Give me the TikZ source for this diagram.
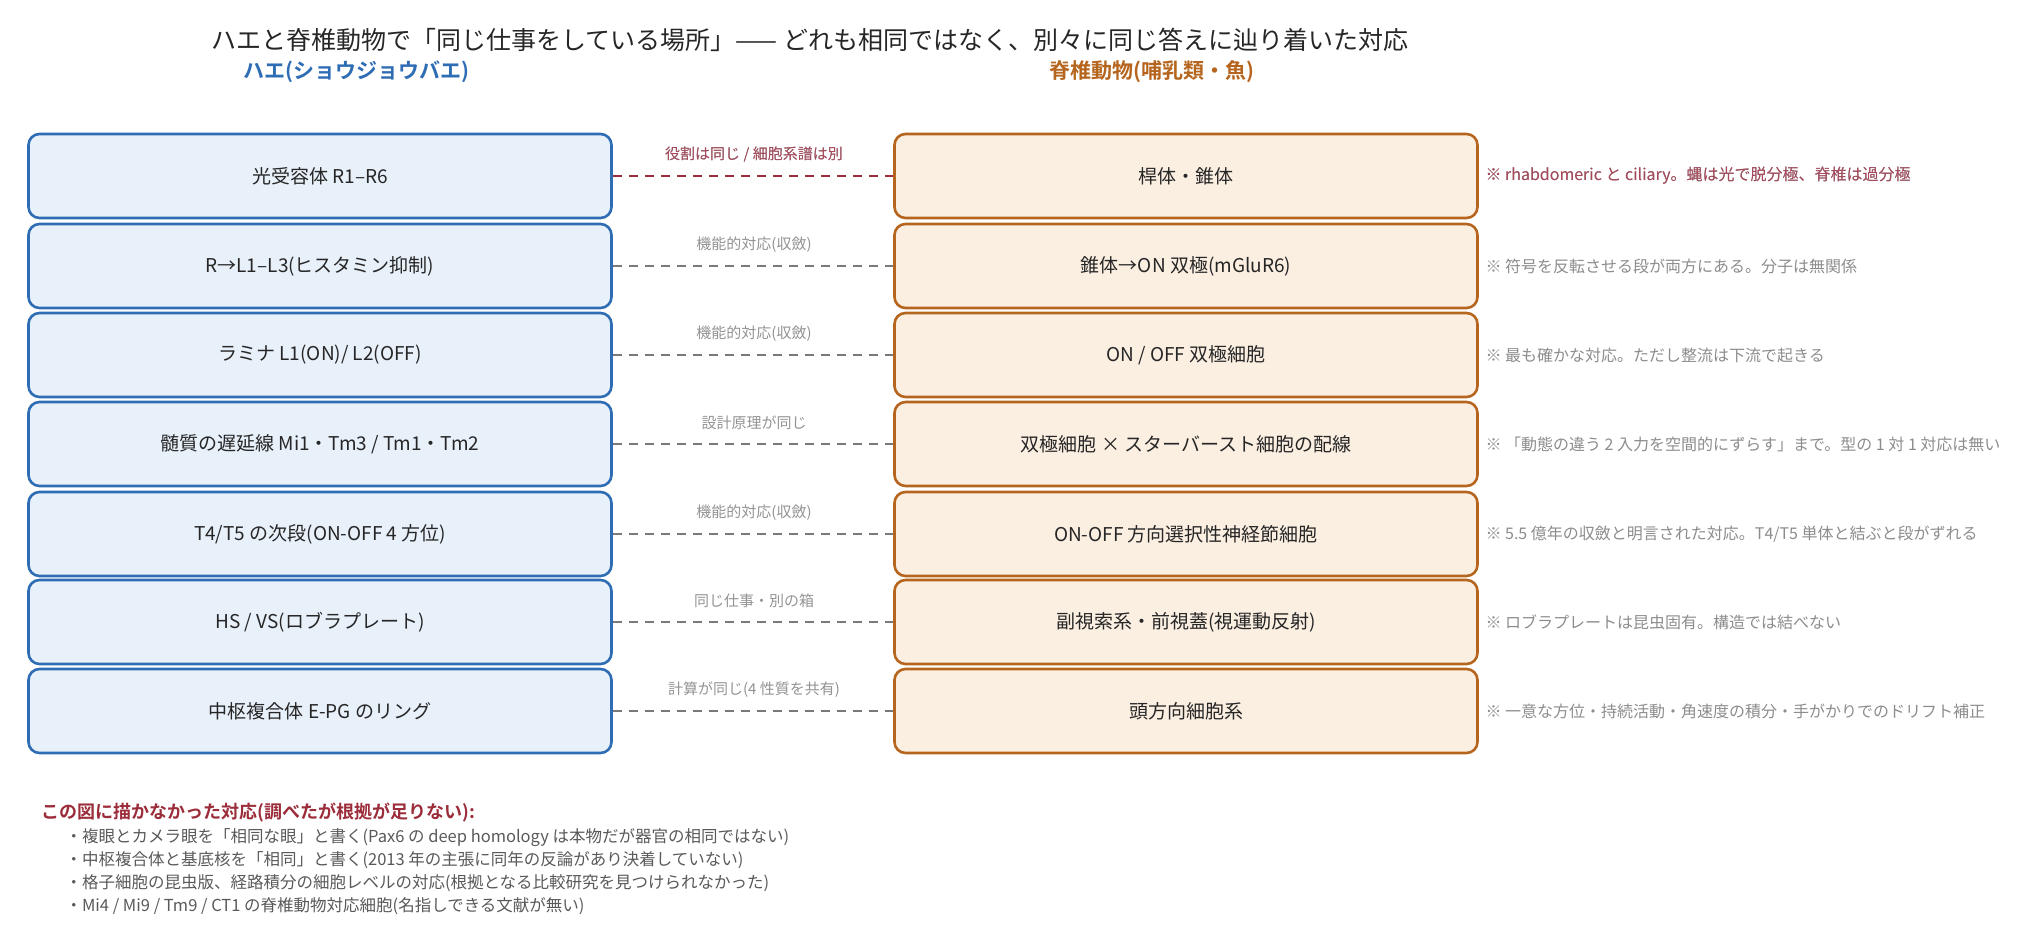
\documentclass[tikz,border=0pt]{standalone}
\usepackage{fontspec}
\setmainfont{Noto Sans CJK JP}
\newfontfamily\jpbold{Noto Sans CJK JP Bold}
\begin{document}
\begin{tikzpicture}[x=1pt,y=-1pt,
  fb/.style={draw=blueB,fill=blueF,line width=2.6pt,rounded corners=11pt,minimum width=583pt,minimum height=84pt,font=\fontsize{19}{22}\selectfont,text=black!85},
  vb/.style={draw=orgB,fill=orgF,line width=2.6pt,rounded corners=11pt,minimum width=583pt,minimum height=84pt,font=\fontsize{19}{22}\selectfont,text=black!85},
  lk/.style={draw=gray!95!black,line width=2.6pt,dash pattern=on 9pt off 7pt},
  lkr/.style={draw=redL,line width=2.6pt,dash pattern=on 9pt off 7pt},
  lab/.style={font=\fontsize{15}{18}\selectfont,text=gray!85},
  note/.style={anchor=west,font=\fontsize{16}{19}\selectfont,text=gray!90},
  item/.style={anchor=west,font=\fontsize{16.5}{19}\selectfont,text=black!65}]
\definecolor{blueB}{HTML}{2E6DB4}\definecolor{blueF}{HTML}{E8F0FA}
\definecolor{orgB}{HTML}{B5651D}\definecolor{orgF}{HTML}{FBEFE2}
\definecolor{redL}{HTML}{9B2C3A}\definecolor{redN}{HTML}{A8485A}
\useasboundingbox (0,0) rectangle (2035,928);
\node[font=\fontsize{25}{30}\selectfont,text=black!85] (title) at (810,40) {ハエと脊椎動物で「同じ仕事をしている場所」—— どれも相同ではなく、別々に同じ答えに辿り着いた対応};
\node[font=\jpbold\fontsize{21}{25}\selectfont,text=blueB] (hf) at (356,72) {ハエ(ショウジョウバエ)};
\node[font=\jpbold\fontsize{21}{25}\selectfont,text=orgB] (hv) at (1152,72) {脊椎動物(哺乳類・魚)};
\foreach \i/\y/\a/\b/\l/\n in {
 1/176/{光受容体 R1–R6}/{桿体・錐体}/{役割は同じ / 細胞系譜は別}/{※ rhabdomeric と ciliary。蝿は光で脱分極、脊椎は過分極},
 2/266/{R→L1–L3(ヒスタミン抑制)}/{錐体→ON 双極(mGluR6)}/{機能的対応(収斂)}/{※ 符号を反転させる段が両方にある。分子は無関係},
 3/355/{ラミナ L1(ON)/ L2(OFF)}/{ON / OFF 双極細胞}/{機能的対応(収斂)}/{※ 最も確かな対応。ただし整流は下流で起きる},
 4/444/{髄質の遅延線 Mi1・Tm3 / Tm1・Tm2}/{双極細胞 × スターバースト細胞の配線}/{設計原理が同じ}/{※ 「動態の違う 2 入力を空間的にずらす」まで。型の 1 対 1 対応は無い},
 5/534/{T4/T5 の次段(ON-OFF 4 方位)}/{ON-OFF 方向選択性神経節細胞}/{機能的対応(収斂)}/{※ 5.5 億年の収斂と明言された対応。T4/T5 単体と結ぶと段がずれる},
 6/622/{HS / VS(ロブラプレート)}/{副視索系・前視蓋(視運動反射)}/{同じ仕事・別の箱}/{※ ロブラプレートは昆虫固有。構造では結べない},
 7/711/{中枢複合体 E-PG のリング}/{頭方向細胞系}/{計算が同じ(4 性質を共有)}/{※ 一意な方位・持続活動・角速度の積分・手がかりでのドリフト補正}}{
  \node[fb] (f\i) at (320,\y) {\a};
  \node[vb] (v\i) at (1186,\y) {\b};
  \node[note] (n\i) at (1482,\y) {\n};
  \node[lab] (l\i) at (754,\y-21) {\l};
}
\draw[lkr] (f1) -- (v1);
\node[note,text=redN] at (n1.west) {※ rhabdomeric と ciliary。蝿は光で脱分極、脊椎は過分極};
\node[lab,text=redN] at (l1) {役割は同じ / 細胞系譜は別};
\foreach \i in {2,...,7} \draw[lk] (f\i) -- (v\i);
\node[anchor=west,font=\jpbold\fontsize{18}{22}\selectfont,text=redL] (bt) at (38,813) {この図に描かなかった対応(調べたが根拠が足りない):};
\node[item] (b1) at (62,838) {・複眼とカメラ眼を「相同な眼」と書く(Pax6 の deep homology は本物だが器官の相同ではない)};
\node[item] (b2) at (62,860) {・中枢複合体と基底核を「相同」と書く(2013 年の主張に同年の反論があり決着していない)};
\node[item] (b3) at (62,883) {・格子細胞の昆虫版、経路積分の細胞レベルの対応(根拠となる比較研究を見つけられなかった)};
\node[item] (b4) at (62,906) {・Mi4 / Mi9 / Tm9 / CT1 の脊椎動物対応細胞(名指しできる文献が無い)};
\end{tikzpicture}
\end{document}
